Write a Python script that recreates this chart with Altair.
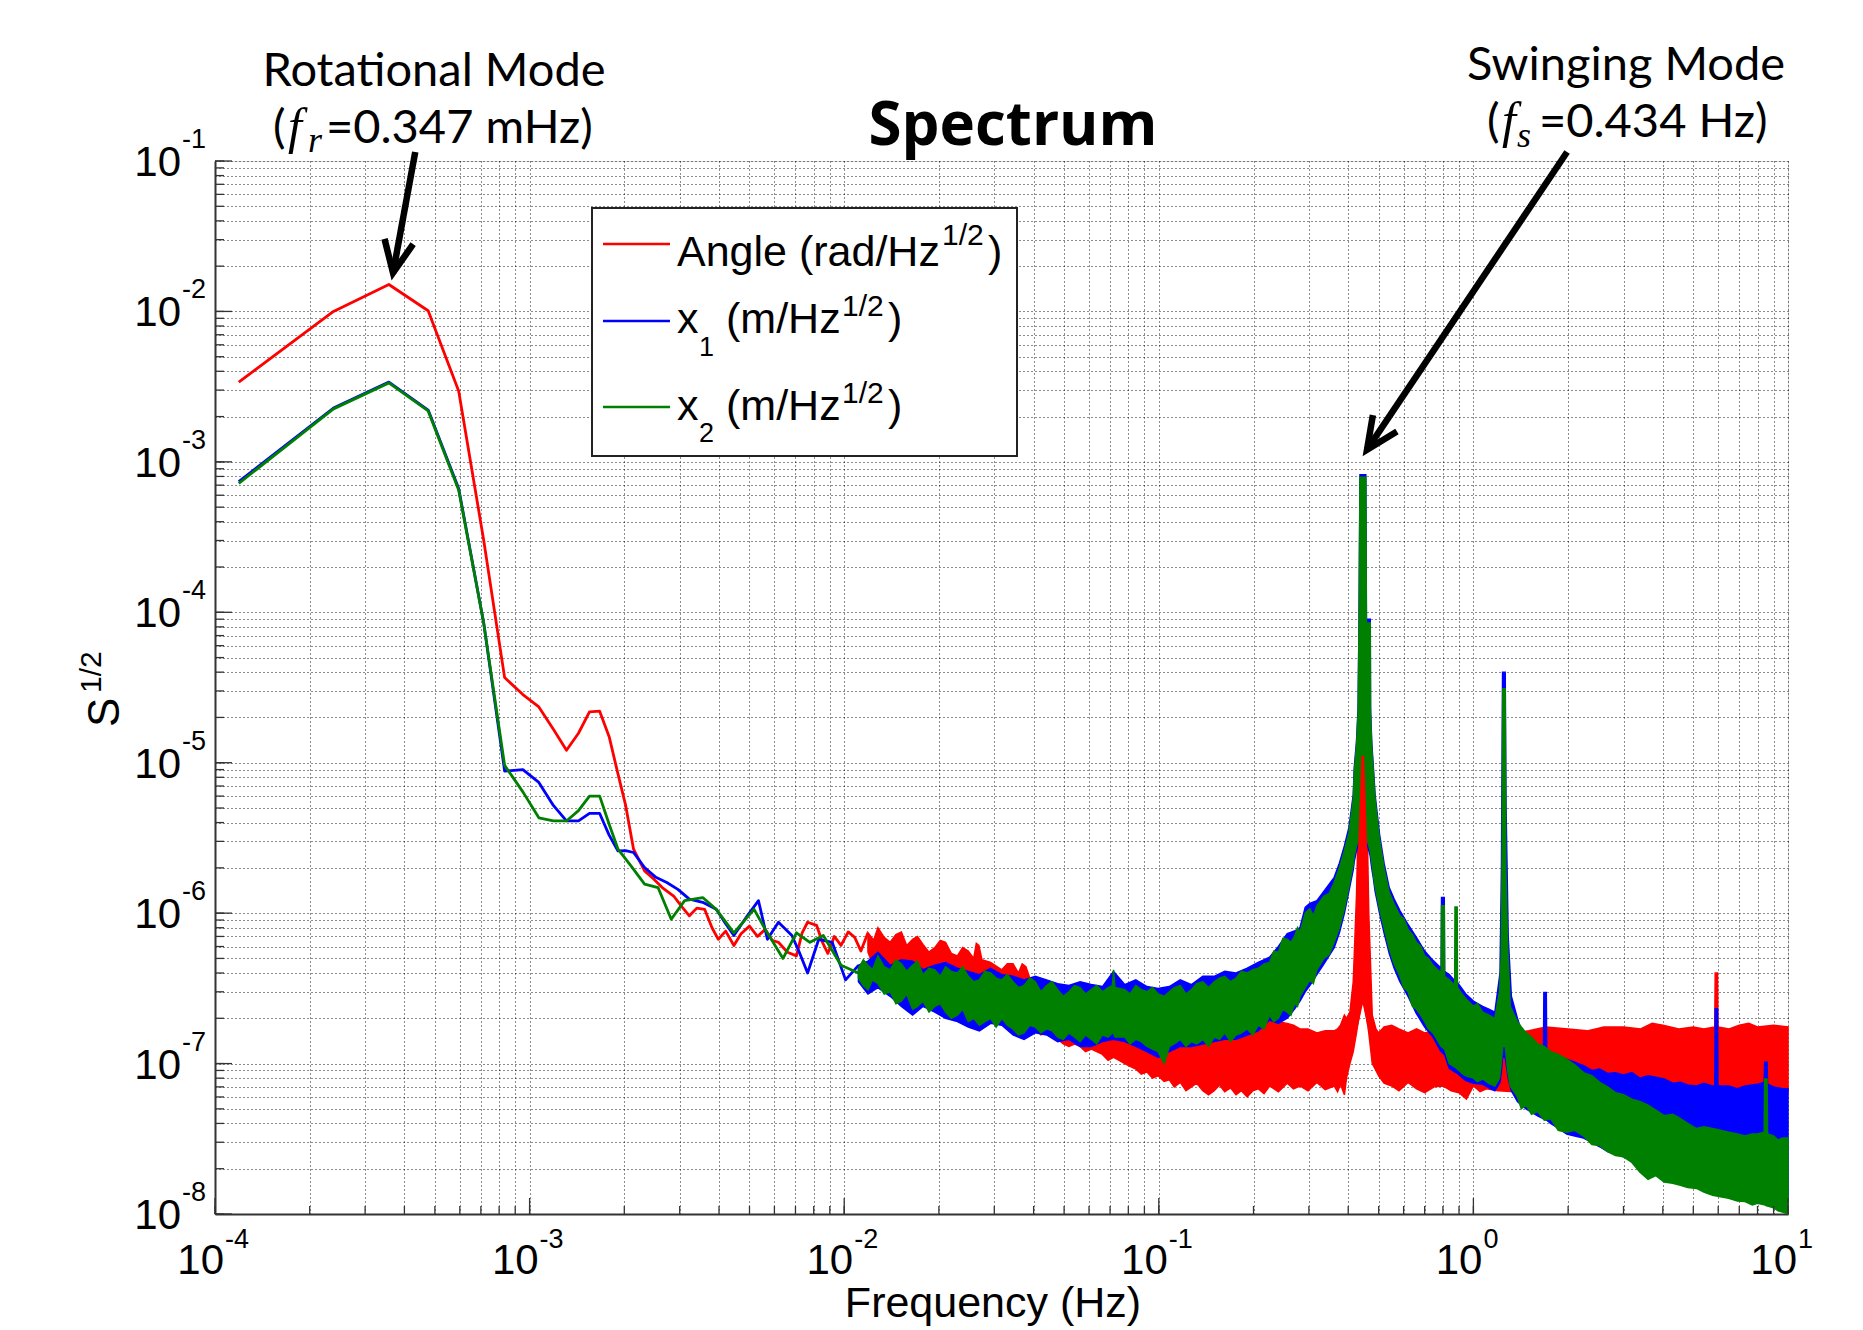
import altair as alt
import pandas as pd

# ---------------- data ----------------
# low-frequency part, drawn as lines (frequency Hz, amplitude)
angle_line = [(1.19e-4, 3.39e-3), (2.38e-4, 1.0e-2), (3.57e-4, 1.51e-2), (4.76e-4, 1.01e-2),
              (5.95e-4, 2.96e-3), (7.14e-4, 3.05e-4), (8.33e-4, 3.68e-5), (9.52e-4, 2.84e-5),
              (1.07e-3, 2.35e-5), (1.19e-3, 1.67e-5), (1.31e-3, 1.21e-5), (1.43e-3, 1.57e-5),
              (1.55e-3, 2.18e-5), (1.67e-3, 2.2e-5), (1.79e-3, 1.49e-5), (1.90e-3, 8.8e-6),
              (2.02e-3, 5.2e-6), (2.14e-3, 2.66e-6), (2.32e-3, 1.91e-6), (2.47e-3, 1.70e-6),
              (2.64e-3, 1.48e-6), (2.87e-3, 1.30e-6), (3.05e-3, 1.10e-6), (3.22e-3, 9.6e-7),
              (3.40e-3, 1.08e-6), (3.60e-3, 1.06e-6), (3.80e-3, 8.0e-7), (3.98e-3, 6.7e-7),
              (4.20e-3, 7.6e-7), (4.46e-3, 6.1e-7), (4.70e-3, 7.3e-7), (5.00e-3, 8.2e-7),
              (5.30e-3, 7.0e-7), (5.61e-3, 7.8e-7), (5.90e-3, 6.6e-7), (6.18e-3, 6.4e-7),
              (6.60e-3, 5.5e-7), (7.05e-3, 5.2e-7), (7.35e-3, 7.4e-7), (7.65e-3, 8.7e-7),
              (8.17e-3, 8.3e-7), (8.50e-3, 6.5e-7), (8.87e-3, 5.4e-7), (9.30e-3, 7.0e-7),
              (9.77e-3, 6.1e-7), (1.03e-2, 7.5e-7), (1.08e-2, 6.9e-7), (1.13e-2, 5.6e-7),
              (1.19e-2, 7.4e-7)]
x1_line = [(1.19e-4, 7.4e-4), (2.38e-4, 2.28e-3), (3.57e-4, 3.39e-3), (4.76e-4, 2.21e-3),
           (5.95e-4, 6.66e-4), (7.14e-4, 8.6e-5), (8.33e-4, 8.8e-6), (9.52e-4, 9.0e-6),
           (1.07e-3, 7.4e-6), (1.19e-3, 5.2e-6), (1.31e-3, 4.1e-6), (1.43e-3, 4.1e-6),
           (1.55e-3, 4.6e-6), (1.67e-3, 4.6e-6), (1.79e-3, 3.3e-6), (1.91e-3, 2.59e-6),
           (2.02e-3, 2.6e-6), (2.14e-3, 2.53e-6), (2.32e-3, 2.01e-6), (2.52e-3, 1.73e-6),
           (2.73e-3, 1.60e-6), (2.96e-3, 1.44e-6), (3.22e-3, 1.24e-6), (3.55e-3, 1.18e-6),
           (3.92e-3, 1.06e-6), (4.20e-3, 8.5e-7), (4.46e-3, 7.1e-7), (4.92e-3, 9.6e-7),
           (5.34e-3, 1.21e-6), (5.70e-3, 6.7e-7), (6.18e-3, 8.7e-7), (6.82e-3, 7.1e-7),
           (7.20e-3, 5.5e-7), (7.65e-3, 4.0e-7), (8.30e-3, 6.7e-7), (9.16e-3, 6.4e-7),
           (1.01e-2, 3.6e-7), (1.11e-2, 4.5e-7)]
x2_line = [(1.19e-4, 7.2e-4), (2.38e-4, 2.25e-3), (3.57e-4, 3.35e-3), (4.76e-4, 2.18e-3),
           (5.95e-4, 6.5e-4), (7.14e-4, 8.6e-5), (8.33e-4, 9.6e-6), (9.52e-4, 6.4e-6),
           (1.07e-3, 4.3e-6), (1.19e-3, 4.1e-6), (1.31e-3, 4.1e-6), (1.43e-3, 4.8e-6),
           (1.55e-3, 6.0e-6), (1.67e-3, 6.0e-6), (1.79e-3, 3.9e-6), (1.91e-3, 2.66e-6),
           (2.10e-3, 2.06e-6), (2.32e-3, 1.56e-6), (2.56e-3, 1.48e-6), (2.82e-3, 9.1e-7),
           (3.11e-3, 1.21e-6), (3.55e-3, 1.27e-6), (3.92e-3, 1.06e-6), (4.46e-3, 7.4e-7),
           (5.17e-3, 1.06e-6), (5.61e-3, 7.8e-7), (6.39e-3, 5.0e-7), (7.05e-3, 7.4e-7),
           (7.78e-3, 6.4e-7), (8.58e-3, 7.1e-7), (9.77e-3, 4.5e-7), (1.11e-2, 4.0e-7)]

# dense high-frequency part, drawn as filled envelopes (frequency, low, high)
angle_band = [(0.0119, 5.5e-7, 7.4e-7), (0.0124, 4.4e-7, 6.6e-7), (0.0128, 3.8e-7, 8.0e-7),
              (0.0134, 3.3e-7, 6.9e-7), (0.0140, 3.0e-7, 6.4e-7), (0.0146, 3.1e-7, 7.2e-7),
              (0.0152, 2.8e-7, 7.5e-7), (0.0158, 2.9e-7, 6.1e-7), (0.0165, 2.7e-7, 6.7e-7),
              (0.0171, 2.6e-7, 7.0e-7), (0.0178, 2.9e-7, 6.2e-7), (0.0186, 2.8e-7, 5.5e-7),
              (0.0194, 2.7e-7, 5.9e-7), (0.0202, 2.5e-7, 6.6e-7), (0.0210, 2.5e-7, 6.4e-7),
              (0.0219, 2.6e-7, 5.4e-7), (0.0229, 2.4e-7, 5.2e-7), (0.0238, 2.3e-7, 5.9e-7),
              (0.0248, 2.6e-7, 5.6e-7), (0.0258, 2.3e-7, 5.0e-7), (0.0263, 2.3e-7, 6.3e-7),
              (0.0268, 2.2e-7, 6.1e-7), (0.0274, 2.2e-7, 4.9e-7), (0.0292, 2.3e-7, 4.7e-7),
              (0.0317, 2.2e-7, 4.2e-7), (0.0330, 2.0e-7, 4.6e-7), (0.0344, 1.9e-7, 4.6e-7),
              (0.0358, 1.8e-7, 4.0e-7), (0.0368, 1.7e-7, 4.6e-7), (0.0378, 1.7e-7, 4.4e-7),
              (0.0389, 1.8e-7, 3.7e-7), (0.0405, 1.75e-7, 3.6e-7), (0.0422, 1.55e-7, 3.5e-7),
              (0.0440, 1.6e-7, 3.3e-7), (0.0458, 1.5e-7, 3.4e-7), (0.0477, 1.45e-7, 3.1e-7),
              (0.0497, 1.35e-7, 3.2e-7), (0.0518, 1.3e-7, 3.0e-7), (0.0540, 1.35e-7, 2.8e-7),
              (0.0562, 1.3e-7, 2.8e-7), (0.0585, 1.2e-7, 2.9e-7), (0.0610, 1.25e-7, 2.7e-7),
              (0.0635, 1.2e-7, 2.6e-7), (0.0662, 1.15e-7, 2.6e-7), (0.0690, 1.05e-7, 2.5e-7),
              (0.0718, 1.1e-7, 2.4e-7), (0.0748, 1.05e-7, 2.4e-7), (0.0779, 1.0e-7, 2.3e-7),
              (0.0810, 9.6e-8, 2.2e-7), (0.0845, 9.2e-8, 2.1e-7), (0.0880, 8.5e-8, 2.1e-7),
              (0.0917, 8.8e-8, 2.0e-7), (0.0955, 8.0e-8, 2.0e-7), (0.0995, 8.3e-8, 1.9e-7),
              (0.104, 7.6e-8, 1.9e-7), (0.108, 7.8e-8, 1.9e-7), (0.112, 7.0e-8, 1.85e-7),
              (0.117, 7.5e-8, 1.9e-7), (0.122, 6.6e-8, 1.8e-7), (0.127, 7.0e-8, 1.8e-7),
              (0.132, 7.4e-8, 1.85e-7), (0.138, 6.6e-8, 1.8e-7), (0.144, 6.2e-8, 1.8e-7),
              (0.150, 6.6e-8, 1.75e-7), (0.156, 7.2e-8, 1.8e-7), (0.162, 6.5e-8, 1.8e-7),
              (0.169, 6.9e-8, 1.8e-7), (0.176, 6.2e-8, 1.85e-7), (0.183, 6.6e-8, 1.85e-7),
              (0.191, 6.0e-8, 1.9e-7), (0.199, 6.6e-8, 1.9e-7), (0.207, 6.8e-8, 1.95e-7),
              (0.216, 6.3e-8, 1.95e-7), (0.225, 7.1e-8, 2.0e-7), (0.240, 6.5e-8, 1.9e-7),
              (0.256, 7.4e-8, 1.85e-7), (0.268, 6.8e-8, 1.8e-7), (0.281, 7.1e-8, 1.7e-7),
              (0.298, 6.6e-8, 1.7e-7), (0.318, 7.5e-8, 1.6e-7), (0.338, 6.7e-8, 1.65e-7),
              (0.361, 7.1e-8, 1.65e-7), (0.370, 6.5e-8, 1.7e-7), (0.378, 7.3e-8, 1.8e-7),
              (0.389, 6.2e-8, 2.1e-7), (0.395, 8.0e-8, 2.0e-7), (0.405, 1.0e-7, 2.2e-7),
              (0.415, 1.2e-7, 3.5e-7), (0.425, 1.6e-7, 1.3e-6), (0.432, 2.0e-7, 5.7e-6),
              (0.440, 2.5e-7, 1.1e-5), (0.450, 2.5e-7, 1.1e-5), (0.458, 2.0e-7, 5.7e-6),
              (0.465, 1.6e-7, 1.0e-6), (0.477, 1.0e-7, 2.1e-7), (0.49, 9.0e-8, 1.7e-7),
              (0.50, 8.3e-8, 1.6e-7), (0.52, 7.4e-8, 1.75e-7), (0.55, 7.1e-8, 1.8e-7),
              (0.58, 6.6e-8, 1.7e-7), (0.62, 7.5e-8, 1.6e-7), (0.66, 6.8e-8, 1.7e-7),
              (0.70, 6.4e-8, 1.6e-7), (0.75, 7.0e-8, 1.65e-7), (0.80, 7.1e-8, 1.7e-7),
              (0.85, 6.6e-8, 1.6e-7), (0.90, 6.4e-8, 1.6e-7), (0.95, 5.8e-8, 1.7e-7),
              (1.0, 7.1e-8, 1.8e-7), (1.05, 6.5e-8, 1.65e-7), (1.1, 6.8e-8, 1.6e-7),
              (1.2, 6.6e-8, 1.7e-7), (1.35, 6.5e-8, 1.6e-7), (1.5, 6.5e-8, 1.65e-7),
              (1.7, 6.5e-8, 1.75e-7), (2.0, 6.5e-8, 1.7e-7), (2.3, 6.5e-8, 1.65e-7),
              (2.6, 6.5e-8, 1.75e-7), (3.0, 6.5e-8, 1.75e-7), (3.4, 6.5e-8, 1.7e-7),
              (3.7, 6.5e-8, 1.85e-7), (4.0, 6.5e-8, 1.8e-7), (4.5, 6.5e-8, 1.7e-7),
              (5.0, 6.5e-8, 1.75e-7), (5.4, 6.5e-8, 1.7e-7), (5.85, 6.5e-8, 1.75e-7),
              (5.87, 6.5e-8, 4.0e-7), (5.97, 6.5e-8, 4.0e-7), (5.99, 6.5e-8, 1.75e-7),
              (6.5, 6.5e-8, 1.7e-7), (7.0, 6.5e-8, 1.8e-7), (7.5, 6.5e-8, 1.85e-7),
              (8.0, 6.5e-8, 1.75e-7), (9.0, 6.5e-8, 1.8e-7), (10.0, 6.5e-8, 1.75e-7)]
angle_peak = [(0.428, 1.8e-7, 1.5e-6), (0.437, 2.2e-7, 5.0e-6), (0.443, 2.5e-7, 1.1e-5),
              (0.447, 2.5e-7, 1.1e-5), (0.453, 2.2e-7, 5.0e-6), (0.462, 1.8e-7, 1.3e-6)]
x1_band = [(0.0111, 3.5e-7, 4.5e-7), (0.0119, 2.9e-7, 4.8e-7), (0.0128, 3.2e-7, 5.5e-7),
           (0.0140, 2.8e-7, 4.5e-7), (0.0152, 2.4e-7, 4.9e-7), (0.0165, 2.1e-7, 4.8e-7),
           (0.0178, 2.4e-7, 4.2e-7), (0.0194, 2.2e-7, 4.5e-7), (0.0210, 2.0e-7, 4.7e-7),
           (0.0229, 1.9e-7, 4.3e-7), (0.0248, 1.75e-7, 4.1e-7), (0.0269, 1.65e-7, 3.9e-7),
           (0.0292, 1.85e-7, 4.3e-7), (0.0317, 1.8e-7, 3.9e-7), (0.0344, 1.55e-7, 3.8e-7),
           (0.0373, 1.45e-7, 3.6e-7), (0.0405, 1.6e-7, 3.8e-7), (0.0440, 1.55e-7, 3.6e-7),
           (0.0477, 1.4e-7, 3.4e-7), (0.0518, 1.45e-7, 3.3e-7), (0.0562, 1.3e-7, 3.5e-7),
           (0.0610, 1.3e-7, 3.35e-7), (0.0662, 1.4e-7, 3.25e-7), (0.0718, 1.45e-7, 4.1e-7),
           (0.0779, 1.4e-7, 3.35e-7), (0.0845, 1.3e-7, 3.6e-7), (0.0917, 1.2e-7, 3.25e-7),
           (0.0995, 1.1e-7, 3.15e-7), (0.108, 1.2e-7, 3.25e-7), (0.117, 1.3e-7, 3.6e-7),
           (0.127, 1.3e-7, 3.35e-7), (0.138, 1.35e-7, 3.8e-7), (0.150, 1.4e-7, 3.8e-7),
           (0.162, 1.45e-7, 4.1e-7), (0.176, 1.45e-7, 4.0e-7), (0.191, 1.55e-7, 4.3e-7),
           (0.207, 1.65e-7, 4.7e-7), (0.225, 1.95e-7, 5.1e-7), (0.240, 1.85e-7, 6.0e-7),
           (0.256, 2.0e-7, 7.3e-7), (0.270, 2.3e-7, 7.6e-7), (0.281, 2.6e-7, 8.0e-7),
           (0.292, 3.0e-7, 1.09e-6), (0.302, 3.3e-7, 1.16e-6), (0.318, 3.9e-7, 1.21e-6),
           (0.335, 4.6e-7, 1.4e-6), (0.361, 5.9e-7, 1.73e-6), (0.375, 7.4e-7, 2.15e-6),
           (0.389, 1.0e-6, 2.8e-6), (0.402, 1.4e-6, 3.7e-6), (0.415, 1.95e-6, 6.1e-6),
           (0.418, 2.2e-6, 9.2e-6), (0.425, 2.6e-6, 1.38e-5), (0.430, 2.8e-6, 2.3e-5),
           (0.433, 3.0e-6, 9.0e-5), (0.436, 3.1e-6, 8.2e-4), (0.455, 3.1e-6, 8.2e-4),
           (0.457, 3.0e-6, 9.0e-5), (0.470, 2.4e-6, 9.0e-5), (0.471, 2.3e-6, 2.3e-5),
           (0.475, 2.0e-6, 1.38e-5), (0.481, 1.7e-6, 9.2e-6), (0.487, 1.4e-6, 6.1e-6),
           (0.503, 1.0e-6, 3.35e-6), (0.520, 7.4e-7, 2.15e-6), (0.540, 5.4e-7, 1.48e-6),
           (0.560, 4.3e-7, 1.24e-6), (0.584, 3.5e-7, 1.04e-6), (0.620, 2.8e-7, 8.4e-7),
           (0.659, 2.15e-7, 6.9e-7), (0.700, 1.75e-7, 5.6e-7), (0.744, 1.5e-7, 4.85e-7),
           (0.790, 1.2e-7, 4.3e-7), (0.792, 1.2e-7, 1.27e-6), (0.808, 1.15e-7, 1.27e-6),
           (0.810, 1.15e-7, 4.1e-7), (0.838, 9.3e-8, 3.9e-7), (0.872, 8.8e-8, 3.55e-7),
           (0.890, 8.6e-8, 3.45e-7), (0.946, 7.7e-8, 2.9e-7), (1.00, 7.4e-8, 2.6e-7),
           (1.07, 7.3e-8, 2.4e-7), (1.12, 6.9e-8, 2.3e-7), (1.17, 6.6e-8, 2.2e-7),
           (1.215, 7.5e-8, 4.0e-7), (1.228, 9.0e-8, 2.0e-6), (1.238, 1.1e-7, 4.0e-5),
           (1.262, 1.1e-7, 4.0e-5), (1.270, 1.0e-7, 5.0e-6), (1.29, 8.0e-8, 7.0e-7),
           (1.32, 6.6e-8, 2.8e-7), (1.38, 5.6e-8, 2.0e-7), (1.47, 5.0e-8, 1.31e-7),
           (1.60, 4.5e-8, 1.25e-7), (1.670, 4.3e-8, 1.2e-7), (1.675, 4.3e-8, 2.97e-7),
           (1.705, 4.2e-8, 2.97e-7), (1.710, 4.2e-8, 1.2e-7), (1.76, 4.0e-8, 1.19e-7),
           (1.87, 3.7e-8, 1.1e-7), (1.98, 3.4e-8, 1.07e-7), (2.10, 3.3e-8, 1.02e-7),
           (2.24, 3.2e-8, 9.7e-8), (2.38, 3.0e-8, 9.0e-8), (2.52, 2.8e-8, 9.2e-8),
           (2.67, 2.6e-8, 8.6e-8), (2.83, 2.5e-8, 8.7e-8), (3.0, 2.4e-8, 8.4e-8),
           (3.19, 2.3e-8, 8.7e-8), (3.38, 2.1e-8, 8.0e-8), (3.59, 2.0e-8, 8.3e-8),
           (3.8, 1.95e-8, 8.1e-8), (4.04, 1.9e-8, 7.9e-8), (4.3, 1.85e-8, 7.4e-8),
           (4.55, 1.8e-8, 7.5e-8), (4.8, 1.75e-8, 7.2e-8), (5.12, 1.7e-8, 7.1e-8),
           (5.4, 1.65e-8, 7.4e-8), (5.76, 1.6e-8, 7.1e-8), (5.85, 1.6e-8, 7.1e-8),
           (5.87, 1.6e-8, 2.31e-7), (5.97, 1.6e-8, 2.31e-7), (5.99, 1.6e-8, 7.1e-8),
           (6.48, 1.5e-8, 7.1e-8), (6.9, 1.5e-8, 6.8e-8), (7.30, 1.45e-8, 7.1e-8),
           (8.0, 1.4e-8, 7.3e-8), (8.40, 1.4e-8, 7.5e-8), (8.43, 1.4e-8, 1.02e-7),
           (8.58, 1.35e-8, 1.02e-7), (8.61, 1.35e-8, 7.3e-8), (9.0, 1.3e-8, 7.0e-8),
           (9.6, 1.25e-8, 6.8e-8), (10.0, 1.2e-8, 6.8e-8)]
x2_band = [(0.0111, 3.7e-7, 4.3e-7), (0.0115, 3.3e-7, 4.9e-7), (0.0119, 3.1e-7, 4.5e-7),
           (0.0123, 3.6e-7, 4.2e-7), (0.0128, 3.4e-7, 5.2e-7), (0.0134, 2.9e-7, 4.4e-7),
           (0.0140, 3.0e-7, 4.2e-7), (0.0146, 2.5e-7, 4.9e-7), (0.0152, 2.6e-7, 4.6e-7),
           (0.0158, 2.9e-7, 4.1e-7), (0.0165, 2.3e-7, 4.5e-7), (0.0171, 2.4e-7, 4.8e-7),
           (0.0178, 2.6e-7, 3.9e-7), (0.0186, 2.2e-7, 4.3e-7), (0.0194, 2.4e-7, 4.2e-7),
           (0.0202, 2.5e-7, 3.8e-7), (0.0210, 2.2e-7, 4.4e-7), (0.0219, 2.0e-7, 4.1e-7),
           (0.0229, 2.1e-7, 4.0e-7), (0.0238, 2.3e-7, 4.4e-7), (0.0248, 1.9e-7, 3.8e-7),
           (0.0258, 2.0e-7, 3.5e-7), (0.0269, 1.8e-7, 3.6e-7), (0.0280, 1.9e-7, 4.1e-7),
           (0.0292, 2.0e-7, 4.0e-7), (0.0304, 1.75e-7, 3.7e-7), (0.0317, 2.0e-7, 3.6e-7),
           (0.0330, 1.8e-7, 3.9e-7), (0.0344, 1.7e-7, 3.5e-7), (0.0358, 1.55e-7, 3.2e-7),
           (0.0373, 1.6e-7, 3.3e-7), (0.0389, 1.8e-7, 3.7e-7), (0.0405, 1.75e-7, 3.5e-7),
           (0.0422, 1.6e-7, 3.0e-7), (0.0440, 1.7e-7, 3.3e-7), (0.0458, 1.65e-7, 3.5e-7),
           (0.0477, 1.5e-7, 3.1e-7), (0.0497, 1.45e-7, 2.8e-7), (0.0518, 1.6e-7, 3.0e-7),
           (0.0540, 1.5e-7, 3.3e-7), (0.0562, 1.4e-7, 3.2e-7), (0.0585, 1.55e-7, 2.9e-7),
           (0.0610, 1.45e-7, 3.1e-7), (0.0635, 1.35e-7, 3.3e-7), (0.0662, 1.55e-7, 3.0e-7),
           (0.0690, 1.5e-7, 3.2e-7), (0.0712, 1.6e-7, 3.3e-7), (0.0718, 1.6e-7, 4.2e-7),
           (0.0725, 1.5e-7, 3.2e-7), (0.0779, 1.5e-7, 3.1e-7), (0.0810, 1.35e-7, 2.9e-7),
           (0.0845, 1.45e-7, 3.3e-7), (0.0880, 1.4e-7, 3.1e-7), (0.0917, 1.3e-7, 3.0e-7),
           (0.0955, 1.25e-7, 3.2e-7), (0.0995, 1.2e-7, 2.9e-7), (0.104, 1.0e-7, 2.8e-7),
           (0.108, 1.3e-7, 3.0e-7), (0.112, 1.35e-7, 3.2e-7), (0.117, 1.45e-7, 3.3e-7),
           (0.122, 1.3e-7, 2.9e-7), (0.127, 1.4e-7, 3.1e-7), (0.132, 1.35e-7, 3.4e-7),
           (0.138, 1.45e-7, 3.5e-7), (0.144, 1.3e-7, 3.2e-7), (0.150, 1.5e-7, 3.5e-7),
           (0.156, 1.45e-7, 3.7e-7), (0.162, 1.6e-7, 3.8e-7), (0.169, 1.4e-7, 3.5e-7),
           (0.176, 1.55e-7, 3.7e-7), (0.183, 1.6e-7, 4.1e-7), (0.191, 1.7e-7, 4.0e-7),
           (0.199, 1.55e-7, 4.2e-7), (0.207, 1.8e-7, 4.3e-7), (0.216, 1.7e-7, 4.6e-7),
           (0.225, 2.1e-7, 4.7e-7), (0.232, 1.9e-7, 5.6e-7), (0.240, 2.0e-7, 5.5e-7),
           (0.248, 2.3e-7, 6.8e-7), (0.256, 2.2e-7, 6.7e-7), (0.263, 2.1e-7, 6.4e-7),
           (0.270, 2.5e-7, 7.0e-7), (0.276, 2.4e-7, 8.0e-7), (0.281, 2.8e-7, 7.4e-7),
           (0.292, 3.2e-7, 1.0e-6), (0.302, 3.6e-7, 1.07e-6), (0.310, 3.4e-7, 9.6e-7),
           (0.318, 4.2e-7, 1.12e-6), (0.335, 5.0e-7, 1.3e-6), (0.348, 5.3e-7, 1.35e-6),
           (0.361, 6.4e-7, 1.6e-6), (0.375, 8.0e-7, 2.0e-6), (0.389, 1.07e-6, 2.6e-6),
           (0.402, 1.5e-6, 3.4e-6), (0.415, 2.1e-6, 5.7e-6), (0.418, 2.4e-6, 8.6e-6),
           (0.425, 2.8e-6, 1.29e-5), (0.430, 3.0e-6, 2.15e-5), (0.433, 3.2e-6, 8.5e-5),
           (0.436, 3.3e-6, 7.9e-4), (0.455, 3.3e-6, 7.9e-4), (0.457, 3.2e-6, 8.5e-5),
           (0.470, 2.6e-6, 8.5e-5), (0.471, 2.5e-6, 2.15e-5), (0.475, 2.2e-6, 1.29e-5),
           (0.481, 1.8e-6, 8.6e-6), (0.487, 1.5e-6, 5.7e-6), (0.503, 1.07e-6, 3.1e-6),
           (0.520, 8.0e-7, 2.0e-6), (0.540, 5.8e-7, 1.37e-6), (0.560, 4.6e-7, 1.15e-6),
           (0.584, 3.8e-7, 9.6e-7), (0.600, 3.2e-7, 9.2e-7), (0.620, 3.0e-7, 7.8e-7),
           (0.640, 2.4e-7, 7.2e-7), (0.659, 2.3e-7, 6.4e-7), (0.680, 2.1e-7, 6.0e-7),
           (0.700, 1.9e-7, 5.2e-7), (0.720, 1.7e-7, 5.0e-7), (0.744, 1.6e-7, 4.5e-7),
           (0.790, 1.3e-7, 4.0e-7), (0.792, 1.3e-7, 1.12e-6), (0.808, 1.25e-7, 1.12e-6),
           (0.810, 1.25e-7, 3.8e-7), (0.838, 1.0e-7, 3.6e-7), (0.872, 9.5e-8, 3.3e-7),
           (0.874, 9.5e-8, 1.1e-6), (0.888, 9.2e-8, 1.1e-6), (0.890, 9.2e-8, 3.2e-7),
           (0.920, 8.6e-8, 2.9e-7), (0.946, 8.3e-8, 2.7e-7), (1.00, 8.0e-8, 2.4e-7),
           (1.03, 7.6e-8, 2.5e-7), (1.07, 7.9e-8, 2.2e-7), (1.12, 7.4e-8, 2.1e-7),
           (1.17, 7.1e-8, 2.0e-7), (1.21, 8.0e-8, 3.0e-7), (1.225, 1.0e-7, 5.0e-7),
           (1.235, 1.2e-7, 3.0e-6), (1.240, 1.3e-7, 3.1e-5), (1.262, 1.3e-7, 3.1e-5),
           (1.268, 1.2e-7, 2.0e-6), (1.285, 9.0e-8, 6.0e-7), (1.31, 7.1e-8, 2.4e-7),
           (1.38, 6.0e-8, 1.9e-7), (1.42, 5.0e-8, 1.75e-7), (1.47, 5.3e-8, 1.6e-7),
           (1.53, 4.6e-8, 1.5e-7), (1.60, 4.8e-8, 1.35e-7), (1.68, 4.2e-8, 1.3e-7),
           (1.76, 4.3e-8, 1.2e-7), (1.86, 3.6e-8, 1.15e-7), (1.98, 3.5e-8, 1.07e-7),
           (2.10, 3.6e-8, 9.8e-8), (2.24, 3.3e-8, 8.7e-8), (2.38, 2.9e-8, 8.3e-8),
           (2.52, 2.85e-8, 7.5e-8), (2.67, 2.6e-8, 7.0e-8), (2.83, 2.45e-8, 6.4e-8),
           (3.0, 2.4e-8, 6.2e-8), (3.19, 2.2e-8, 5.8e-8), (3.38, 1.9e-8, 5.6e-8),
           (3.59, 1.7e-8, 5.3e-8), (3.8, 1.8e-8, 4.9e-8), (4.04, 1.63e-8, 4.5e-8),
           (4.3, 1.6e-8, 4.6e-8), (4.55, 1.55e-8, 4.3e-8), (4.8, 1.5e-8, 4.0e-8),
           (5.12, 1.48e-8, 3.7e-8), (5.4, 1.4e-8, 3.8e-8), (5.76, 1.33e-8, 3.7e-8),
           (6.1, 1.3e-8, 3.6e-8), (6.48, 1.27e-8, 3.5e-8), (6.9, 1.22e-8, 3.4e-8),
           (7.30, 1.21e-8, 3.3e-8), (7.7, 1.15e-8, 3.4e-8), (8.0, 1.18e-8, 3.4e-8),
           (8.40, 1.15e-8, 3.5e-8), (8.43, 1.15e-8, 7.9e-8), (8.58, 1.13e-8, 7.9e-8),
           (8.61, 1.13e-8, 3.4e-8), (9.0, 1.1e-8, 3.3e-8), (9.3, 1.05e-8, 3.1e-8),
           (9.6, 1.03e-8, 3.2e-8), (10.0, 1.0e-8, 3.2e-8)]

# axis positions and tick labels
x_decades = [1e-4, 1e-3, 1e-2, 1e-1, 1e0, 1e1]
x_exponents = ["-4", "-3", "-2", "-1", "0", "1"]
y_decades = [1e-1, 1e-2, 1e-3, 1e-4, 1e-5, 1e-6, 1e-7, 1e-8]
y_exponents = ["-1", "-2", "-3", "-4", "-5", "-6", "-7", "-8"]
mantissas = [1, 2, 3, 4, 5, 6, 7, 8, 9]

# annotation arrows (start frequency, start value, tip frequency, tip value)
arrows = [(4.33e-4, 0.1148, 3.68e-4, 0.01804), (1.985, 0.1148, 0.459, 1.205e-3)]

# ---------------- chart ----------------
W, H = 1573, 1053
RED, BLUE, GREEN = "#ff0000", "#0000ff", "#008000"
SANS = "Liberation Sans"
HUM = "Lato"

x_grid = [m * d for d in x_decades[:-1] for m in mantissas] + [x_decades[-1]]
y_grid = [m * d for d in y_decades[1:] for m in mantissas] + [y_decades[0]]

xs = alt.Scale(type="log", domain=[1e-4, 10])
ys = alt.Scale(type="log", domain=[1e-8, 1e-1])
x_axis = alt.Axis(values=x_grid, grid=True, gridColor="#000000", gridDash=[1, 3], gridWidth=1,
                  gridOpacity=0.9, labels=False, ticks=False, domain=True,
                  domainColor="#333333", domainWidth=2, title=None)
y_axis = alt.Axis(values=y_grid, grid=True, gridColor="#000000", gridDash=[1, 3], gridWidth=1,
                  gridOpacity=0.9, labels=False, ticks=False, domain=True,
                  domainColor="#333333", domainWidth=2, title=None)


def X(f):
    return alt.X(f, type="quantitative", scale=xs, axis=x_axis)


def Y(f):
    return alt.Y(f, type="quantitative", scale=ys, axis=y_axis)


def line_layer(pts, color):
    df = pd.DataFrame(pts, columns=["f", "v"])
    return alt.Chart(df).mark_line(color=color, strokeWidth=2.8, strokeJoin="round").encode(
        x=X("f"), y=Y("v"))


def band_layer(pts, color):
    df = pd.DataFrame(pts, columns=["f", "lo", "hi"])
    return alt.Chart(df).mark_area(color=color, opacity=1, stroke=color, strokeWidth=1.5).encode(
        x=X("f"), y=Y("hi"), y2=alt.Y2("lo"))


def txt(text, x, y, size, font=SANS, align="left", style="normal", weight="normal", angle=0):
    return alt.Chart(pd.DataFrame({"t": [text]})).mark_text(
        font=font, fontSize=size, align=align, baseline="alphabetic", fontStyle=style,
        fontWeight=weight, angle=angle, color="black").encode(
        x=alt.value(x), y=alt.value(y), text="t:N")


layers = [
    line_layer(angle_line, RED), band_layer(angle_band, RED),
    line_layer(x1_line, BLUE), band_layer(x1_band, BLUE),
    line_layer(x2_line, GREEN), band_layer(x2_band, GREEN),
    band_layer(angle_peak, RED),
]

# axis ticks pointing inward
xt = pd.DataFrame({"f": x_grid})
yt = pd.DataFrame({"v": y_grid})
xd = pd.DataFrame({"f": x_decades, "e": x_exponents, "b": ["10"] * len(x_decades)})
yd = pd.DataFrame({"v": y_decades, "e": y_exponents, "b": ["10"] * len(y_decades)})
layers += [
    alt.Chart(xt).mark_rule(color="#333333", strokeWidth=1.3).encode(
        x=X("f"), y=alt.value(H), y2=alt.value(H - 8)),
    alt.Chart(xd).mark_rule(color="#333333", strokeWidth=1.3).encode(
        x=X("f"), y=alt.value(H), y2=alt.value(H - 16)),
    alt.Chart(yt).mark_rule(color="#333333", strokeWidth=1.3).encode(
        y=Y("v"), x=alt.value(0), x2=alt.value(9)),
    alt.Chart(yd).mark_rule(color="#333333", strokeWidth=1.3).encode(
        y=Y("v"), x=alt.value(0), x2=alt.value(17)),
    # tick labels 10^k
    alt.Chart(xd).mark_text(font=SANS, fontSize=42, align="right", baseline="alphabetic",
                            dx=9, color="black").encode(x=X("f"), y=alt.value(1113), text="b:N"),
    alt.Chart(xd).mark_text(font=SANS, fontSize=27, align="left", baseline="alphabetic",
                            dx=10, color="black").encode(x=X("f"), y=alt.value(1087), text="e:N"),
    alt.Chart(yd).mark_text(font=SANS, fontSize=42, align="right", baseline="alphabetic",
                            dy=15, color="black").encode(x=alt.value(-34), y=Y("v"), text="b:N"),
    alt.Chart(yd).mark_text(font=SANS, fontSize=27, align="left", baseline="alphabetic",
                            dy=-13, color="black").encode(x=alt.value(-33), y=Y("v"), text="e:N"),
]

# legend
one = pd.DataFrame({"a": [0]})
layers += [
    alt.Chart(one).mark_rect(fill="white", stroke="#222222", strokeWidth=2).encode(
        x=alt.value(377), x2=alt.value(802), y=alt.value(47), y2=alt.value(295)),
    alt.Chart(one).mark_rule(color=RED, strokeWidth=2.7).encode(
        x=alt.value(388), x2=alt.value(455), y=alt.value(83)),
    alt.Chart(one).mark_rule(color=BLUE, strokeWidth=2.7).encode(
        x=alt.value(388), x2=alt.value(455), y=alt.value(160)),
    alt.Chart(one).mark_rule(color=GREEN, strokeWidth=2.7).encode(
        x=alt.value(388), x2=alt.value(455), y=alt.value(246)),
    txt("Angle (rad/Hz", 462, 105, 43), txt("1/2", 727, 84, 30), txt(")", 773, 105, 43),
    txt("x", 462, 172, 43), txt("1", 484, 195, 27), txt("(m/Hz", 511, 172, 43),
    txt("1/2", 627, 155, 30), txt(")", 673, 172, 43),
    txt("x", 462, 259, 43), txt("2", 484, 281, 27), txt("(m/Hz", 511, 259, 43),
    txt("1/2", 627, 242, 30), txt(")", 673, 259, 43),
]

# arrows
adf = pd.DataFrame(arrows, columns=["f0", "v0", "f1", "v1"])
head = "M -0.42 -0.92 L 0 0 L 0.42 -0.92"
layers += [
    alt.Chart(adf).mark_rule(color="black", strokeWidth=6.5).encode(
        x=X("f0"), x2="f1", y=Y("v0"), y2="v1"),
    alt.Chart(adf.iloc[[0]]).mark_point(shape=head, size=4800, filled=False, color="black",
                                       strokeWidth=6.5, angle=10.5, opacity=1,
                                       strokeJoin="miter").encode(x=X("f1"), y=Y("v1")),
    alt.Chart(adf.iloc[[1]]).mark_point(shape=head, size=4800, filled=False, color="black",
                                       strokeWidth=6.5, angle=34.2, opacity=1,
                                       strokeJoin="miter").encode(x=X("f1"), y=Y("v1")),
]

# titles and annotations
layers += [
    txt("Spectrum", 798, -16, 60, font="Open Sans", align="center", weight="bold"),
    txt("Rotational Mode", 219, -75, 47, font=HUM, align="center"),
    txt("(", 58, -18, 47, font=HUM), txt("f", 73, -18, 50, font="Liberation Serif", style="italic"),
    txt("r", 93, -9, 36, font="Liberation Serif", style="italic"),
    txt("=0.347 mHz)", 111, -18, 47, font=HUM),
    txt("Swinging Mode", 1411, -81, 47, font=HUM, align="center"),
    txt("(", 1272, -24, 47, font=HUM), txt("f", 1287, -24, 50, font="Liberation Serif", style="italic"),
    txt("s", 1302, -14, 36, font="Liberation Serif", style="italic"),
    txt("=0.434 Hz)", 1324, -24, 47, font=HUM),
    txt("Frequency (Hz)", 778, 1156, 43, align="center"),
    txt("S", -96, 566, 44, angle=270), txt("1/2", -114, 532, 30, angle=270),
]

chart = alt.layer(*layers).properties(
    width=W, height=H,
    padding={"left": 207, "top": 153, "right": 60, "bottom": 114},
    autosize=alt.AutoSizeParams(type="none"),
).configure_view(strokeWidth=0).configure(background="white")

chart.save("out.html", embed_options={"renderer": "svg", "actions": False})
